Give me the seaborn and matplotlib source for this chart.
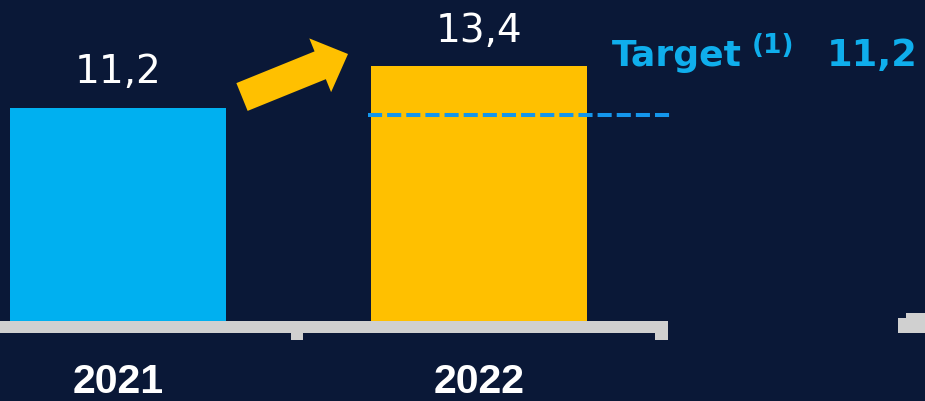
import matplotlib
matplotlib.use("Agg")
import matplotlib.pyplot as plt
import matplotlib.patches as mpatches
from matplotlib.transforms import IdentityTransform
import seaborn as sns
import pandas as pd

# ---- data ----
years = ["2021", "2022"]
values = [11.2, 13.4]
value_labels = ["11,2", "13,4"]
bar_colors = ["#00B0F0", "#FFC000"]
target_value = 11.2
target_label = "11,2"

BG = "#0a1837"
CYAN = "#0FAEEC"

sns.set_theme(style="white")
plt.rcParams["font.family"] = ["DejaVu Sans"]

W, H = 925, 401
fig = plt.figure(figsize=(W / 100, H / 100), dpi=100, facecolor=BG)
ax = fig.add_axes([0, 0, 1, 1])
ax.set_facecolor(BG)

df = pd.DataFrame({"year": years, "value": values})
sns.barplot(data=df, x="year", y="value", hue="year", palette=bar_colors,
            width=0.598, legend=False, ax=ax, saturation=1, linewidth=0,
            edgecolor="none")

ax.set_xlim(-0.327, 2.235)
ax.set_ylim(-4.21, 16.88)
ax.axis("off")


def px(x, y):
    return (x, H - y)


ident = IdentityTransform()

# baseline (gray axis bar with small ticks)
gray = "#D0D0D0"
for (x0, y0, w, h) in [(0, 321, 661, 12), (291, 330, 12, 10), (655, 321, 13, 19),
                       (906, 313, 19, 12), (898, 318, 27, 15)]:
    ax.add_patch(mpatches.Rectangle((x0, H - y0 - h), w, h, transform=ident,
                                    facecolor=gray, edgecolor="none", zorder=3,
                                    clip_on=False))

# value labels and year labels
for i, (v, lab) in enumerate(zip(values, value_labels)):
    ax.annotate(lab, xy=(i, v), xytext=(0, 12), textcoords="offset points",
                ha="center", va="bottom", color="white", fontsize=28)
    ax.annotate(years[i], xy=(i, 0), xytext=(0, -44), textcoords="offset points",
                ha="center", va="center", color="white", fontsize=29.5,
                fontweight="bold", family=["Liberation Sans"])

# target dashed line
ax.plot([0.693, 1.532], [target_value * 0.968] * 2, color="#1496EC", lw=2.9,
        dashes=(3.5, 1.25), solid_capstyle="butt", dash_capstyle="butt",
        zorder=4)

# target text
fig.text(612 / W, 1 - 66 / H, "Target", color=CYAN, fontsize=26,
         fontweight="bold", va="baseline", ha="left")
fig.text(752 / W, 1 - 53 / H, "(1)", color=CYAN, fontsize=19,
         fontweight="bold", va="baseline", ha="left")
fig.text(918 / W, 1 - 66 / H, target_label, color=CYAN, fontsize=26.5,
         fontweight="bold", va="baseline", ha="right")

# growth arrow
tx, ty = px(242, 97)
hx, hy = px(348, 54)
arrow = mpatches.FancyArrow(tx, ty, hx - tx, hy - ty, width=30, head_width=58,
                            head_length=30, length_includes_head=True,
                            transform=ident, facecolor="#FFC000",
                            edgecolor="none", zorder=5)
fig.patches.append(arrow)

fig.savefig("out.png", dpi=100, facecolor=BG)
